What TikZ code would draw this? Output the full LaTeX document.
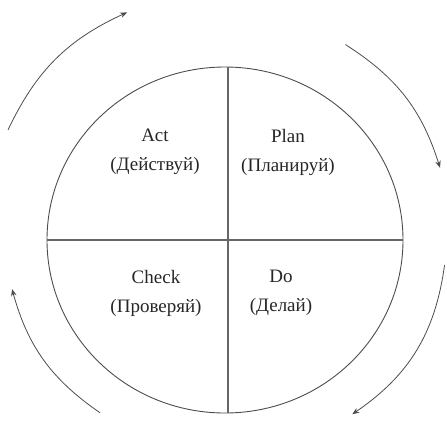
\documentclass[tikz,border=0pt]{standalone}
\usepackage{fontspec}
\setmainfont{Liberation Serif}
\usetikzlibrary{arrows.meta}
\begin{document}
\begin{tikzpicture}[x=1pt, y=1pt,
    cyclearrow/.style={-{Stealth[length=7pt,width=5.5pt]}, line width=0.8pt, black!70},
    phase/.style={align=center, font=\fontsize{19}{29}\selectfont, text=black!85}]
    \def\rx{178}    % horizontal radius of circle
    \def\ry{173}    % vertical radius of circle
    \def\cx{-3}     % x-coordinate of circle centre

    \useasboundingbox (-228,-184) rectangle (219,240);

    % Circle with the cross
    \coordinate (top) at (0,\ry);
    \coordinate (bottom) at (0,-\ry);
    \coordinate (left) at (\cx-\rx,0);
    \coordinate (right) at (\cx+\rx,0);
    \draw[black!70, line width=0.9pt] (\cx,0) ellipse ({\rx} and {\ry});
    \draw[black!60, line width=1.8pt] (top) -- (bottom);
    \draw[black!60, line width=1.8pt] (left) -- (right);

    % Quadrant labels
    \node[phase] (act) at (-73,88) {Act\\(Действуй)};
    \node[phase] (plan) at (60,88) {Plan\\(Планируй)};
    \node[phase] (check) at (-72,-53) {Check\\(Проверяй)};
    \node[phase] (do) at (53,-53) {Do\\(Делай)};

    % Arrows around the cycle
    \coordinate (tlS) at (153.4:246);
    \coordinate (tlE) at (113.9:249);
    \coordinate (trS) at (59:228);
    \coordinate (trE) at (18.8:224);
    \coordinate (brS) at (-6.6:218);
    \coordinate (brE) at (-54.5:214);
    \coordinate (blS) at (233.5:215);
    \coordinate (blE) at (192.8:221.5);

    \draw[cyclearrow] (tlS) to[bend left=20] (tlE);
    \draw[cyclearrow] (trS) to[bend left=20] (trE);
    \draw[cyclearrow] (brS) to[bend left=24] (brE);
    \draw[cyclearrow] (blS) to[bend left=20] (blE);
\end{tikzpicture}
\end{document}
